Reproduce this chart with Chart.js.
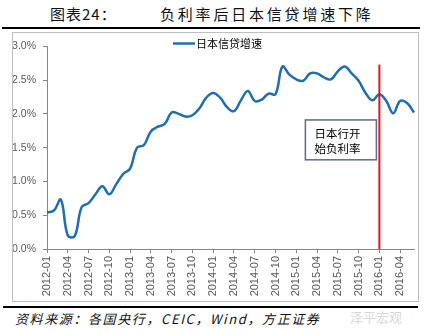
<!DOCTYPE html>
<html>
<head>
<meta charset="utf-8">
<script src="https://cdn.jsdelivr.net/npm/chart.js@4.4.1/dist/chart.umd.min.js"></script>
<style>
  body { margin: 0; width: 424px; height: 334px; background: #fff; position: relative; overflow: hidden;
         font-family: "Noto Sans CJK SC", sans-serif; }
  .abs { position: absolute; white-space: nowrap; }
  #t1 { left: 50px; top: 4px; font-size: 15px; line-height: 20px; letter-spacing: 1px; color: #111; }
  #t2 { left: 160px; top: 4px; font-size: 15px; line-height: 20px; letter-spacing: 2.8px; color: #111; }
  #rule1 { left: 2px; top: 27px; width: 418px; height: 2px; background: #000; }
  #box { left: 12px; top: 32px; width: 405px; height: 268px; border: 1px solid #bfbfbf; }
  #rule2 { left: 3px; top: 306px; width: 415px; height: 2px; background: #000; }
  #src { left: 15px; top: 310px; font-size: 13px; line-height: 17px; font-style: italic; letter-spacing: 1.6px; color: #111; }
  #wm { left: 350px; top: 308px; font-size: 13px; line-height: 17px; color: #d8d8d8; }
</style>
</head>
<body>
<div class="abs" id="t1">图表24：</div>
<div class="abs" id="t2">负利率后日本信贷增速下降</div>
<div class="abs" id="rule1"></div>
<div class="abs" id="box"><canvas id="creditChart" width="405" height="268"></canvas></div>
<div class="abs" id="rule2"></div>
<div class="abs" id="src">资料来源：各国央行，CEIC，Wind，方正证券</div>
<div class="abs" id="wm">泽平宏观</div>
<script>
// 月份
const months = [
  '2012-01','2012-02','2012-03','2012-04','2012-05','2012-06','2012-07','2012-08','2012-09','2012-10','2012-11','2012-12',
  '2013-01','2013-02','2013-03','2013-04','2013-05','2013-06','2013-07','2013-08','2013-09','2013-10','2013-11','2013-12',
  '2014-01','2014-02','2014-03','2014-04','2014-05','2014-06','2014-07','2014-08','2014-09','2014-10','2014-11','2014-12',
  '2015-01','2015-02','2015-03','2015-04','2015-05','2015-06','2015-07','2015-08','2015-09','2015-10','2015-11','2015-12',
  '2016-01','2016-02','2016-03','2016-04','2016-05','2016-06'
];
// 日本信贷增速 (%)
const creditGrowth = [
  0.54, 0.57, 0.73, 0.20, 0.19, 0.62, 0.68, 0.81, 0.93, 0.81, 0.96, 1.11,
  1.19, 1.50, 1.54, 1.74, 1.81, 1.85, 2.02, 2.00, 1.96, 1.98, 2.08, 2.24,
  2.31, 2.24, 2.10, 2.04, 2.20, 2.34, 2.19, 2.21, 2.30, 2.29, 2.70, 2.58,
  2.51, 2.49, 2.60, 2.60, 2.54, 2.51, 2.63, 2.70, 2.60, 2.49, 2.31, 2.20,
  2.29, 2.19, 2.01, 2.19, 2.16, 2.02
];
const seriesName = '日本信贷增速';
const yTicks = [0, 0.5, 1.0, 1.5, 2.0, 2.5, 3.0];
// 负利率标记
const markMonth = '2016-01';
const markTop = 2.73;
const noteLines = ['日本行开', '始负利率'];

const lineColor = '#1f6db3';

// 红线、注释框、图例
const extras = {
  id: 'extras',
  afterDatasetsDraw(chart) {
    const { ctx, scales: { x, y } } = chart;
    const px = x.getPixelForValue(months.indexOf(markMonth));
    ctx.save();
    // 注释框
    const bx = px - 74, by = y.getPixelForValue(1.91), bh = y.getPixelForValue(1.32) - by;
    ctx.fillStyle = '#fff';
    ctx.fillRect(bx, by, 71, bh);
    ctx.strokeStyle = '#5b6b8a';
    ctx.lineWidth = 1.5;
    ctx.strokeRect(bx, by, 71, bh);
    ctx.fillStyle = '#000';
    ctx.font = '11.5px "Noto Sans CJK SC"';
    ctx.textBaseline = 'middle';
    ctx.fillText(noteLines[0], bx + 9, by + 14);
    ctx.fillText(noteLines[1], bx + 9, by + 29);
    // 红线
    ctx.strokeStyle = '#e3141b';
    ctx.lineWidth = 2;
    ctx.beginPath();
    ctx.moveTo(px, y.getPixelForValue(markTop));
    ctx.lineTo(px, y.getPixelForValue(0));
    ctx.stroke();
    // 图例
    ctx.strokeStyle = lineColor;
    ctx.lineWidth = 2.5;
    ctx.beginPath();
    ctx.moveTo(160, 10.5);
    ctx.lineTo(182, 10.5);
    ctx.stroke();
    ctx.fillStyle = '#000';
    ctx.font = '11px "Noto Sans CJK SC"';
    ctx.fillText(chart.data.datasets[0].label, 183, 11);
    ctx.restore();
  }
};

const ctx_credit = document.getElementById('creditChart').getContext('2d');
new Chart(ctx_credit, {
  type: 'line',
  data: {
    labels: months,
    datasets: [{
      label: seriesName,
      data: creditGrowth,
      borderColor: lineColor,
      borderWidth: 2.5,
      pointRadius: 0,
      tension: 0.4,
      fill: false
    }]
  },
  options: {
    responsive: false,
    animation: false,
    layout: { padding: { top: 12, right: 4, left: 0, bottom: 0 } },
    plugins: { legend: { display: false }, tooltip: { enabled: false } },
    scales: {
      x: {
        offset: false,
        afterFit(s) { s.height = 52; },
        grid: { display: true, drawOnChartArea: false, tickLength: 4, color: '#868686' },
        border: { color: '#868686' },
        ticks: {
          autoSkip: false, maxRotation: 90, minRotation: 90, padding: 3,
          color: '#595959', font: { family: 'Liberation Sans', size: 11 },
          callback(v, i) { return i % 3 === 0 ? months[i] : null; }
        }
      },
      y: {
        min: 0, max: 3,
        afterFit(s) { s.width = 34; },
        afterBuildTicks(s) { s.ticks = yTicks.map(v => ({ value: v })); },
        grid: { display: true, drawOnChartArea: false, tickLength: 4, color: '#868686' },
        border: { color: '#868686' },
        ticks: {
          padding: 7,
          color: '#595959', font: { family: 'Liberation Sans', size: 10.5 },
          callback(v) { return v.toFixed(1) + '%'; }
        }
      }
    }
  },
  plugins: [extras]
});
</script>
</body>
</html>
